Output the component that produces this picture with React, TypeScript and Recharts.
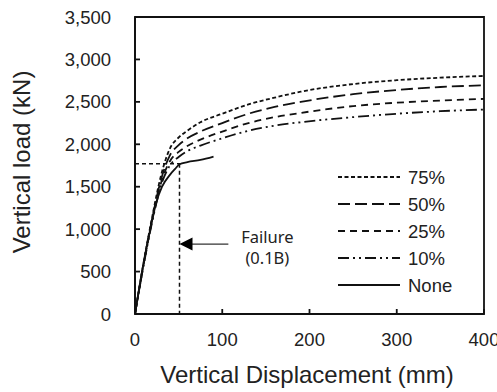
import {
  LineChart,
  Line,
  XAxis,
  YAxis,
  ReferenceLine,
  ReferenceArea,
  ReferenceDot,
  Label,
} from "recharts";

const FONT = "'Liberation Sans', Arial, sans-serif";
const INK = "#111";

// displacement (mm) for the four reinforced cases
const dispX = [0, 10, 20, 30, 40, 50, 60, 75, 100, 130, 160, 190, 250, 300, 350, 400];
const load75 = [0, 610, 1160, 1640, 1950, 2080, 2160, 2260, 2360, 2470, 2550, 2620, 2710, 2755, 2785, 2805];
const load50 = [0, 600, 1140, 1590, 1870, 1990, 2070, 2150, 2250, 2360, 2440, 2500, 2590, 2640, 2675, 2695];
const load25 = [0, 590, 1120, 1550, 1800, 1910, 1980, 2055, 2150, 2250, 2320, 2370, 2450, 2490, 2515, 2535];
const load10 = [0, 580, 1100, 1520, 1750, 1850, 1920, 1985, 2070, 2160, 2220, 2260, 2320, 2360, 2390, 2410];

// unreinforced case
const dispNone = [0, 8, 17.5, 24, 31, 40, 46, 51, 60, 75, 90];
const loadNone = [0, 500, 1000, 1300, 1500, 1640, 1710, 1765, 1790, 1815, 1855];

const yTicks = [0, 500, 1000, 1500, 2000, 2500, 3000, 3500];
const xTicks = [0, 100, 200, 300, 400];

// failure criterion (0.1B)
const failDisp = 51;
const failLoad = 1770;

const series = [
  { name: "75%", x: dispX, y: load75, dash: "4 2.5" },
  { name: "50%", x: dispX, y: load50, dash: "12 5" },
  { name: "25%", x: dispX, y: load25, dash: "7 5" },
  { name: "10%", x: dispX, y: load10, dash: "11 4 2 4 2 4" },
  { name: "None", x: dispNone, y: loadNone, dash: undefined as string | undefined },
];

const toPoints = (xs: number[], ys: number[]) => xs.map((x, i) => ({ x, y: ys[i] }));

function LegendBox() {
  return (
    <svg width={150} height={140} style={{ position: "absolute", left: 330, top: 167 }}>
      {series.map((s, i) => {
        const y = 10 + i * 27;
        return (
          <g key={s.name}>
            <line x1={8} x2={70} y1={y} y2={y} stroke={INK} strokeWidth={1.8} strokeDasharray={s.dash} />
            <text x={78} y={y + 6.5} fontSize={18.5} fontFamily={FONT} fill="#222">
              {s.name}
            </text>
          </g>
        );
      })}
    </svg>
  );
}

function Arrow(p: any) {
  const { x1, y1, x2 } = p;
  return (
    <g>
      <line x1={x1 + 12} y1={y1} x2={x2} y2={y1} stroke="#333" strokeWidth={1.2} />
      <polygon points={`${x1},${y1} ${x1 + 13},${y1 - 6.5} ${x1 + 13},${y1 + 6.5}`} fill="#000" />
    </g>
  );
}

function FailureText(p: any) {
  const { cx, cy } = p;
  return (
    <g fontFamily="'Noto Sans', sans-serif" fontSize={16.5} fill="#222" textAnchor="middle">
      <text x={cx} y={cy}>Failure</text>
      <text x={cx} y={cy + 21}>(0.1B)</text>
    </g>
  );
}

export default function App() {
  return (
    <div style={{ position: "absolute", left: 0, top: 0, width: 497, height: 392, background: "#fff" }}>
      <LineChart width={497} height={392} margin={{ top: 17, right: 13, left: 0, bottom: 0 }}>
        <XAxis
          type="number"
          dataKey="x"
          domain={[0, 400]}
          ticks={xTicks}
          interval={0}
          allowDataOverflow
          height={78}
          tickSize={-5}
          tickMargin={24}
          stroke={INK}
          strokeWidth={1.8}
          tick={{ fontSize: 18.5, fontFamily: FONT, fill: "#222" }}
        >
          <Label
            content={() => (
              <text x={307} y={383} textAnchor="middle" fontSize={24} fontFamily={FONT} fill="#222">
                Vertical Displacement (mm)
              </text>
            )}
          />
        </XAxis>
        <YAxis
          type="number"
          dataKey="y"
          domain={[0, 3500]}
          ticks={yTicks}
          interval={0}
          allowDataOverflow
          width={135}
          tickSize={-5}
          tickMargin={29}
          stroke={INK}
          strokeWidth={1.8}
          tickFormatter={(v: number) => v.toLocaleString("en-US")}
          tick={{ fontSize: 18.5, fontFamily: FONT, fill: "#222" }}
        >
          <Label
            content={() => (
              <text
                x={30}
                y={162}
                transform="rotate(-90 30 162)"
                textAnchor="middle"
                fontSize={24}
                fontFamily={FONT}
                fill="#222"
              >
                Vertical load (kN)
              </text>
            )}
          />
        </YAxis>
        <ReferenceArea x1={0} x2={400} y1={0} y2={3500} fill="none" stroke={INK} strokeWidth={1.8} />
        <ReferenceLine
          segment={[{ x: 0, y: failLoad }, { x: failDisp + 1, y: failLoad }]}
          stroke={INK}
          strokeWidth={1.5}
          strokeDasharray="4 3"
        />
        <ReferenceLine
          segment={[{ x: failDisp, y: failLoad }, { x: failDisp, y: 0 }]}
          stroke={INK}
          strokeWidth={1.5}
          strokeDasharray="4 3"
        />
        <ReferenceLine segment={[{ x: failDisp, y: 824 }, { x: 107, y: 824 }]} shape={Arrow} />
        <ReferenceDot x={151.7} y={840} r={0} shape={FailureText} />
        {series.map((s) => (
          <Line
            key={s.name}
            data={toPoints(s.x, s.y)}
            dataKey="y"
            name={s.name}
            type="monotone"
            stroke={INK}
            strokeWidth={1.8}
            strokeDasharray={s.dash}
            dot={false}
            activeDot={false}
            isAnimationActive={false}
          />
        ))}
      </LineChart>
      <LegendBox />
    </div>
  );
}
